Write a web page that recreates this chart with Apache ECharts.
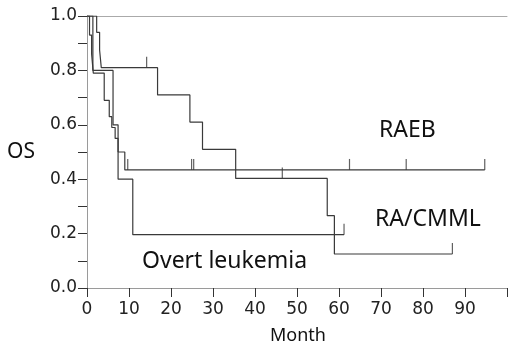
<!DOCTYPE html>
<html lang="en">
<head>
    <meta charset="UTF-8">
    <title>OS by subtype</title>
    <script src="https://cdn.jsdelivr.net/npm/echarts@6/dist/echarts.min.js"></script>
    <style>
        html, body { margin: 0; padding: 0; background: #fff; }
        #chart { width: 510px; height: 346px; }
    </style>
</head>
<body>
    <div id="chart"></div>
    <script type="text/javascript">
        // x tick labels (months)
        var monthTicks = [0, 10, 20, 30, 40, 50, 60, 70, 80, 90];

        // Kaplan-Meier steps: time (month) where survival becomes the value
        var raebTimes = [0, 0.6, 1.1, 1.5, 4.1, 5.3, 5.9, 6.7, 7.4, 9.0, 94.7];
        var raebSurv  = [1.0, 0.93, 0.86, 0.79, 0.69, 0.63, 0.59, 0.55, 0.50, 0.434, 0.434];
        var raebCensor = [9.7, 24.9, 25.4, 62.5, 76.0, 94.7];

        var raTimes = [0, 2.3, 3.0, 3.4, 16.8, 24.5, 27.5, 35.4, 57.2, 58.9, 87.0];
        var raSurv  = [1.0, 0.94, 0.875, 0.81, 0.71, 0.61, 0.51, 0.403, 0.266, 0.125, 0.125];
        var raCensor = [14.2, 46.5, 87.0];

        var overtTimes = [0, 1.4, 6.2, 7.4, 10.9, 61.2];
        var overtSurv  = [1.0, 0.8, 0.6, 0.4, 0.196, 0.196];
        var overtCensor = [61.2];

        var chart = echarts.init(document.getElementById('chart'));

        function steps(times, surv) {
            return times.map(function (t, i) { return [t, surv[i]]; });
        }
        // survival value at a censor time, read from the step data
        function censorPoints(censors, times, surv) {
            return censors.map(function (c) {
                var v = surv[0];
                for (var i = 0; i < times.length; i++) {
                    if (times[i] <= c) v = surv[i];
                }
                return [c, v];
            });
        }

        var lineColor = '#3a3a3a';
        function kmLine(name, times, surv) {
            return {
                name: name, type: 'line', step: 'end',
                data: steps(times, surv), symbol: 'none',
                lineStyle: { color: lineColor, width: 1.2 },
                animation: false, silent: true
            };
        }
        function censorMarks(name, censors, times, surv) {
            return {
                name: name + ' censored', type: 'scatter',
                data: censorPoints(censors, times, surv),
                symbol: 'rect', symbolSize: [1.2, 11], symbolOffset: [0, -5.5],
                itemStyle: { color: lineColor },
                animation: false, silent: true
            };
        }

        var tickFont = { fontFamily: 'DejaVu Sans', fontSize: 17, color: '#222' };

        var option = {
            animation: false,
            grid: { left: 87, right: 2, top: 16, bottom: 58 },
            xAxis: [{
                type: 'value', min: 0, max: 100, interval: 10,
                axisLine: { lineStyle: { color: '#9a9a9a', width: 1 } },
                axisTick: { length: 9, lineStyle: { color: '#333' } },
                axisLabel: Object.assign({
                    margin: 13,
                    formatter: function (v) { return monthTicks.indexOf(v) >= 0 ? String(v) : ''; }
                }, tickFont),
                splitLine: { show: false }
            }, {
                type: 'value', position: 'top', min: 0, max: 100,
                axisLine: { show: true, lineStyle: { color: '#aaa', width: 1 } },
                axisTick: { show: false }, axisLabel: { show: false }, splitLine: { show: false }
            }],
            yAxis: {
                type: 'value', min: 0, max: 1, interval: 0.1,
                axisLine: { show: true, lineStyle: { color: '#9a9a9a', width: 1 } },
                axisTick: { show: true, length: 9, lineStyle: { color: '#333' } },
                axisLabel: Object.assign({
                    margin: 10,
                    padding: [0, 0, 5, 0],
                    formatter: function (v) {
                        return Math.round(v * 10) % 2 === 0 ? v.toFixed(1) : '';
                    }
                }, tickFont),
                splitLine: { show: false }
            },
            series: [
                kmLine('RAEB', raebTimes, raebSurv),
                kmLine('RA/CMML', raTimes, raSurv),
                kmLine('Overt leukemia', overtTimes, overtSurv),
                censorMarks('RAEB', raebCensor, raebTimes, raebSurv),
                censorMarks('RA/CMML', raCensor, raTimes, raSurv),
                censorMarks('Overt leukemia', overtCensor, overtTimes, overtSurv)
            ],
            graphic: [
                { type: 'text', left: 7, top: 142, style: { text: 'OS', font: '21px "Noto Sans"', fill: '#111' } },
                { type: 'text', left: 270, top: 327, style: { text: 'Month', font: '18px "Noto Sans"', fill: '#111' } },
                { type: 'text', left: 379, top: 119, style: { text: 'RAEB', font: '23px "Noto Sans"', fill: '#111' } },
                { type: 'text', left: 375, top: 208, style: { text: 'RA/CMML', font: '23px "Noto Sans"', fill: '#111' } },
                { type: 'text', left: 142, top: 250, style: { text: 'Overt leukemia', font: '23px "Noto Sans"', fill: '#111' } }
            ]
        };

        chart.setOption(option);
    </script>
</body>
</html>
